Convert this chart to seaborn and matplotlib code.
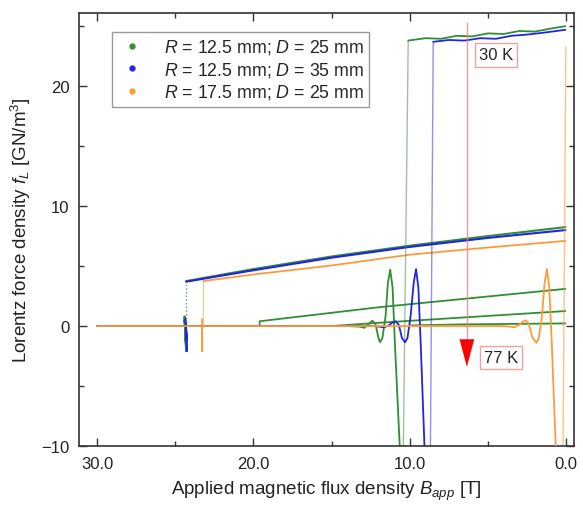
import numpy as np
import pandas as pd
import matplotlib
matplotlib.use("Agg")
import matplotlib.pyplot as plt
from matplotlib.lines import Line2D
import seaborn as sns

# ---------------- data (B in T, f in GN/m^3) ----------------
# 30 K curves: baseline, oscillation, dip (thick)
g30_B = [30.0, 14.0, 13.2, 12.9, 12.6, 12.4, 12.2, 12.0, 11.9, 11.75, 11.55, 11.4, 11.25, 11.1, 10.95, 10.5]
g30_f = [0.0, 0.0, -0.05, -0.15, 0.2, 0.45, 0.2, -1.0, -1.35, -1.0, 0.8, 3.6, 4.7, 3.2, -1.5, -14.0]
b30_B = [30.0, 12.2, 11.7, 11.4, 11.1, 10.9, 10.7, 10.5, 10.3, 10.15, 9.95, 9.75, 9.6, 9.45, 9.3, 8.95]
b30_f = [0.0, 0.0, -0.1, 0.0, 0.3, 0.4, 0.1, -1.0, -1.35, -1.0, 0.8, 3.6, 4.75, 3.2, -1.5, -14.0]
o30_B = [30.0, 4.0, 3.6, 3.3, 3.0, 2.8, 2.6, 2.4, 2.15, 1.9, 1.75, 1.55, 1.38, 1.23, 1.08, 0.92, 0.55]
o30_f = [0.0, 0.0, -0.05, -0.1, 0.1, 0.35, 0.48, 0.2, -1.0, -1.4, -1.0, 0.8, 3.6, 4.75, 3.2, -1.5, -14.0]
# 30 K flux-jump (thin, sparse)
g30j_B = [10.45, 10.1]
g30j_f = [-14.0, 23.8]
b30j_B = [8.7, 8.5]
b30j_f = [-14.0, 23.7]
o30j_B = [0.22, 0.02]
o30j_f = [-14.0, 23.3]
# 30 K upper branch
g30t_B = [10.1, 9.0, 8.0, 7.0, 6.0, 5.0, 4.0, 3.0, 2.0, 1.0, 0.05]
g30t_f = [23.8, 24.0, 23.95, 24.2, 24.15, 24.4, 24.35, 24.6, 24.55, 24.8, 25.0]
b30t_B = [8.5, 7.5, 6.5, 5.5, 4.5, 3.5, 2.5, 1.5, 0.05]
b30t_f = [23.7, 23.85, 23.8, 24.0, 23.95, 24.2, 24.3, 24.45, 24.7]

# intermediate temperature curves
gm_B = [24.3, 20.0, 15.0, 10.0, 5.0, 0.05]
gm_f = [3.75, 4.75, 5.8, 6.7, 7.5, 8.25]
bm_B = [24.3, 20.0, 15.0, 10.0, 5.0, 0.05]
bm_f = [3.7, 4.65, 5.7, 6.6, 7.35, 8.0]
om_B = [23.2, 20.0, 15.0, 10.0, 5.0, 0.05]
om_f = [3.75, 4.3, 5.05, 5.95, 6.55, 7.1]
# vertical rises onto intermediate curves
gm_v_B = [24.3, 24.3]
gm_v_f = [0.0, 3.75]
om_v_B = [23.2, 23.2]
om_v_f = [0.0, 3.75]
# scribbles at the jump fields
gs_B = [24.35, 24.3, 24.4, 24.3, 24.4, 24.35]
gs_f = [0.0, -2.1, 0.8, -1.6, 0.5, 0.0]
bs_B = [24.3, 24.25, 24.35, 24.25, 24.3]
bs_f = [0.0, -2.1, 0.6, -1.2, 0.0]
os_B = [23.3, 23.3, 23.3]
os_f = [0.6, -2.1, 0.0]

# higher temperature green curves
ga_B = [19.6, 19.6, 11.9, 0.05]
ga_f = [0.0, 0.4, 1.58, 3.1]
gb_B = [15.0, 11.9, 0.05]
gb_f = [0.0, 0.28, 1.25]
gc_B = [10.0, 6.6, 0.05]
gc_f = [0.05, 0.14, 0.22]

legend_labels = ["$R$ = 12.5 mm; $D$ = 25 mm",
                 "$R$ = 12.5 mm; $D$ = 35 mm",
                 "$R$ = 17.5 mm; $D$ = 25 mm"]
x_ticks = [30.0, 20.0, 10.0, 0.0]
y_ticks = [-10, 0, 10, 20]

GREEN = "#2f8f35"
BLUE = "#2424e0"
ORANGE = "#ff9a3a"

# ---------------- style ----------------
sns.set_theme(style="ticks")
plt.rcParams["font.family"] = ["Liberation Sans", "DejaVu Sans"]
plt.rcParams["mathtext.fontset"] = "custom"
plt.rcParams["mathtext.rm"] = "Liberation Sans"
plt.rcParams["mathtext.it"] = "Liberation Sans:italic"
plt.rcParams["mathtext.bf"] = "Liberation Sans:bold"

fig = plt.figure(figsize=(5.83, 5.06), dpi=100)
ax = fig.add_axes([79 / 583, 1 - 447 / 506, (574 - 79) / 583, (447 - 14) / 506])


def draw(B, f, color, lw=1.3, alpha=1.0, ls="-", z=2):
    sns.lineplot(x=B, y=f, ax=ax, color=color, lw=lw, alpha=alpha,
                 linestyle=ls, sort=False, estimator=None, zorder=z)


# higher temperature curves
draw(ga_B, ga_f, GREEN)
draw(gb_B, gb_f, GREEN)
draw(gc_B, gc_f, GREEN)

# intermediate
draw(gm_v_B, gm_v_f, GREEN, lw=1.0, ls=":", alpha=0.8)
draw(om_v_B, om_v_f, ORANGE, lw=0.8, alpha=0.6)
draw(gm_B, gm_f, GREEN, lw=1.5)
draw(bm_B, bm_f, BLUE, lw=1.5)
draw(om_B, om_f, ORANGE, lw=1.3)
draw(gs_B, gs_f, GREEN, lw=1.5)
draw(bs_B, bs_f, BLUE, lw=1.2)
draw(os_B, os_f, ORANGE, lw=1.2)

# 30 K
draw(g30j_B, g30j_f, GREEN, lw=1.0, alpha=0.5)
draw(b30j_B, b30j_f, BLUE, lw=1.0, alpha=0.5)
draw(o30j_B, o30j_f, ORANGE, lw=1.0, alpha=0.6)
draw(g30_B, g30_f, GREEN, lw=1.3)
draw(b30_B, b30_f, BLUE, lw=1.3)
draw(g30t_B, g30t_f, GREEN, lw=1.3)
draw(b30t_B, b30t_f, BLUE, lw=1.3)
draw(o30_B, o30_f, ORANGE, lw=1.3, z=3)

# temperature arrow
ARROW_B, ARROW_TOP, ARROW_NECK, ARROW_TIP = 6.35, 25.3, -1.1, -3.4
ax.plot([ARROW_B, ARROW_B], [ARROW_TOP, ARROW_NECK], color="#f08080", lw=1.0, alpha=0.8, zorder=4)
ax.fill([ARROW_B - 0.47, ARROW_B + 0.47, ARROW_B], [ARROW_NECK, ARROW_NECK, ARROW_TIP],
        color="#ff0000", lw=0, zorder=5)

box = dict(boxstyle="square,pad=0.25", fc="white", ec="#f2a0a0", lw=1.0)
ax.text(4.48, 22.6, "30 K", ha="center", va="center", fontsize=12, bbox=box, zorder=6)
ax.text(4.16, -2.6, "77 K", ha="center", va="center", fontsize=12, bbox=box, zorder=6)

# axes
ax.set_xlim(31.15, -0.5)
ax.set_ylim(-10, 26.1)
ax.set_xticks(x_ticks)
ax.set_xticklabels([f"{v:.1f}" for v in x_ticks])
ax.set_yticks(y_ticks)
ax.set_xticks([25, 15, 5], minor=True)
ax.set_yticks([-5, 5, 15, 25], minor=True)
for s in ax.spines.values():
    s.set_visible(True)
    s.set_color("#333333")
    s.set_linewidth(1.2)
ax.tick_params(which="both", direction="in", top=True, right=True, colors="#333333",
               labelcolor="#222222", labelsize=12, width=1.0)
ax.tick_params(which="major", length=6, pad=7)
ax.tick_params(which="minor", length=3.5)

ax.set_xlabel("Applied magnetic flux density $B_{app}$ [T]", fontsize=13.5, color="#222222", labelpad=6)
ax.set_ylabel("Lorentz force density $f_L$ [GN/m$^3$]", fontsize=13.5, color="#222222", labelpad=6)

handles = [Line2D([], [], ls="none", marker="o", ms=3.5, color=c) for c in (GREEN, BLUE, ORANGE)]
leg = ax.legend(handles, legend_labels, loc="upper left", bbox_to_anchor=(0.067, 0.956),
                fontsize=12.8, frameon=True, fancybox=False, edgecolor="#999999",
                framealpha=1, borderpad=0.3, labelspacing=0.2, handletextpad=1.0,
                handlelength=1.6, borderaxespad=0)
leg.get_frame().set_linewidth(1.0)

fig.savefig("out.png", dpi=100)
